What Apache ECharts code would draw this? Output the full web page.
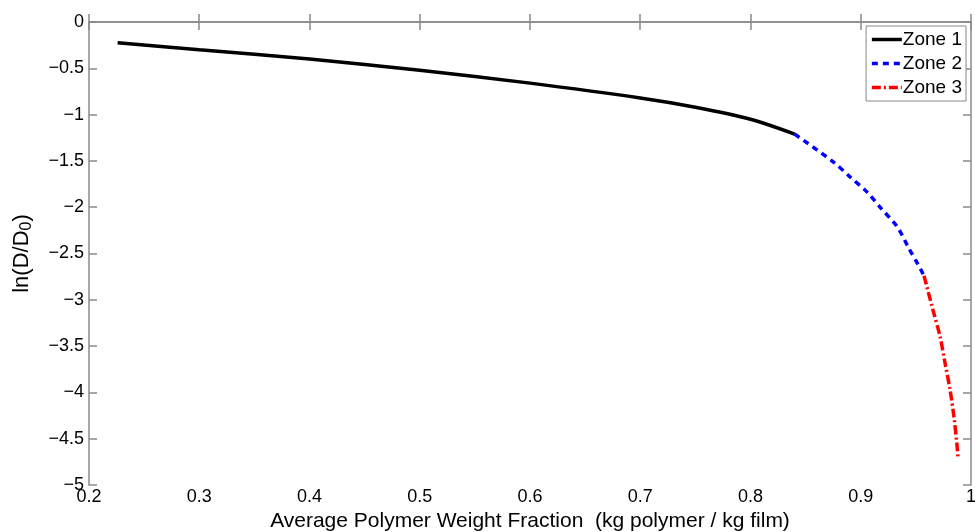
<!DOCTYPE html>
<html>
<head>
<meta charset="utf-8">
<script src="https://cdn.jsdelivr.net/npm/echarts@6/dist/echarts.min.js"></script>
<style>
  html, body { margin: 0; padding: 0; background: #fff; }
  #chart { width: 975px; height: 532px; }
</style>
</head>
<body>
<div id="chart"></div>
<script>
// zone 1: solid black
const zone1X = [0.226, 0.30, 0.40, 0.50, 0.60, 0.70, 0.75, 0.80, 0.84]
const zone1Y = [-0.224, -0.30, -0.40, -0.52, -0.66, -0.82, -0.92, -1.05, -1.21]
// zone 2: dashed blue
const zone2X = [0.84, 0.875, 0.890, 0.906, 0.919, 0.933, 0.943, 0.952, 0.9574]
const zone2Y = [-1.21, -1.51, -1.67, -1.84, -2.02, -2.21, -2.43, -2.62, -2.74]
// zone 3: dash-dot red
const zone3X = [0.9574, 0.9655, 0.972, 0.9764, 0.981, 0.9846, 0.9873, 0.9882]
const zone3Y = [-2.74, -3.11, -3.40, -3.68, -3.97, -4.27, -4.57, -4.70]

const seriesNames = ['Zone 1', 'Zone 2', 'Zone 3']

function pairs(xs, ys) {
  return xs.map(function(x, i) { return [x, ys[i]] })
}

function fmt(v) {
  return String(Math.round(v * 10) / 10).replace('-', '\u2212')
}

const font = '"Liberation Sans", Arial, Helvetica, sans-serif'
const axisGray = '#8a8a8a'

const tickStyle = {
  show: true,
  inside: true,
  length: 8,
  lineStyle: { color: axisGray, width: 1.5 }
}

const chart = echarts.init(document.getElementById('chart'))

chart.setOption({
  animation: false,
  backgroundColor: '#fff',
  grid: { left: 89, right: 4, top: 22, bottom: 47, containLabel: false, outerBoundsMode: 'none' },
  legend: {
    orient: 'vertical',
    right: 9,
    top: 26,
    data: seriesNames,
    itemWidth: 30,
    itemHeight: 12,
    itemGap: 5,
    padding: [4, 4, 4, 4],
    borderColor: '#888',
    borderWidth: 1,
    backgroundColor: '#fff',
    itemStyle: { opacity: 0 },
    lineStyle: { width: 3.5 },
    textStyle: { fontFamily: font, fontSize: 19, color: '#000', padding: [0, 0, 0, -4] }
  },
  xAxis: [
    {
      type: 'value',
      min: 0.2,
      max: 1,
      interval: 0.1,
      name: 'Average Polymer Weight Fraction  (kg polymer / kg film)',
      nameLocation: 'middle',
      nameGap: 25,
      nameTextStyle: { fontFamily: font, fontSize: 21, color: '#000' },
      axisLine: { show: true, lineStyle: { color: axisGray, width: 1.5 } },
      axisTick: tickStyle,
      axisLabel: { fontFamily: font, fontSize: 18, color: '#000', margin: 3, formatter: fmt },
      splitLine: { show: false }
    },
    {
      type: 'value',
      position: 'top',
      min: 0.2,
      max: 1,
      interval: 0.1,
      axisLine: { show: true, lineStyle: { color: axisGray, width: 1.5 } },
      axisTick: tickStyle,
      axisLabel: { show: false },
      splitLine: { show: false }
    }
  ],
  yAxis: [
    {
      type: 'value',
      min: -5,
      max: 0,
      interval: 0.5,
      name: 'ln(D/D{sub|0})',
      nameLocation: 'middle',
      nameRotate: 90,
      nameGap: 54,
      nameTextStyle: {
        fontFamily: font,
        fontSize: 22,
        color: '#000',
        rich: {
          sub: { fontFamily: font, fontSize: 16, color: '#000', verticalAlign: 'bottom', padding: [10, 0, 0, 0] }
        }
      },
      axisLine: { show: true, lineStyle: { color: axisGray, width: 1.5 } },
      axisTick: tickStyle,
      axisLabel: { fontFamily: font, fontSize: 18, color: '#000', margin: 5, formatter: fmt },
      splitLine: { show: false }
    },
    {
      type: 'value',
      position: 'right',
      min: -5,
      max: 0,
      interval: 0.5,
      axisLine: { show: true, lineStyle: { color: axisGray, width: 1.5 } },
      axisTick: tickStyle,
      axisLabel: { show: false },
      splitLine: { show: false }
    }
  ],
  series: [
    {
      name: seriesNames[0],
      type: 'line',
      data: pairs(zone1X, zone1Y),
      symbol: 'none',
      smooth: 0.3,
      color: '#000',
      lineStyle: { color: '#000', width: 3.5, type: 'solid' }
    },
    {
      name: seriesNames[1],
      type: 'line',
      data: pairs(zone2X, zone2Y),
      symbol: 'none',
      smooth: 0.3,
      color: '#0000ff',
      lineStyle: { color: '#0000ff', width: 3.5, type: [6, 5] }
    },
    {
      name: seriesNames[2],
      type: 'line',
      data: pairs(zone3X, zone3Y),
      symbol: 'none',
      smooth: 0.3,
      color: '#ff0000',
      lineStyle: { color: '#ff0000', width: 3.5, type: [9, 3, 2, 3] }
    }
  ]
})
</script>
</body>
</html>
